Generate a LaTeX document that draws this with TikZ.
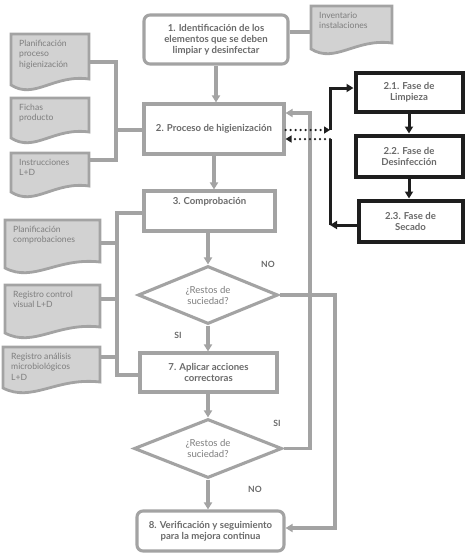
\documentclass[tikz,border=0pt]{standalone}
\usepackage{fontspec}
\setmainfont{Lato}
\usetikzlibrary{arrows.meta,shapes.geometric,calc}
\definecolor{lg}{HTML}{A3A3A3}
\definecolor{tg}{HTML}{6A6A6A}
\definecolor{dg}{HTML}{7E7E7E}
\definecolor{bk}{HTML}{1E1E1E}
\definecolor{df}{HTML}{D2D2D2}
\tikzset{
 gline/.style={draw=lg, line width=3.1pt},
 garrow/.style={gline, -{Triangle[length=7pt,width=8pt]}},
 bline/.style={draw=bk, line width=3pt},
 barrow/.style={bline, -{Triangle[length=7pt,width=8pt]}},
 dline/.style={draw=bk, line width=2.5pt, line cap=round, dash pattern=on 0pt off 5pt, -{Triangle[length=6pt,width=7pt]}},
 box/.style={draw=lg, line width=3.1pt, fill=white, text=tg, font=\bfseries\fontsize{9.6}{11}\selectfont, align=center, inner sep=0pt},
 rbox/.style={box, rounded corners=6pt},
 pbox/.style={box, draw=bk, line width=4pt},
 dia/.style={box, diamond, aspect=2.4, font=\fontsize{9.6}{11}\selectfont, text=dg},
 docshape/.style={draw=lg, line width=2.8pt, fill=df},
 doctext/.style={text=dg, font=\fontsize{8.6}{10.3}\selectfont, align=left, inner sep=0pt},
 lab/.style={text=tg, font=\bfseries\fontsize{8.6}{10}\selectfont},
 btext/.style={text=tg, font=\bfseries\fontsize{9.6}{11}\selectfont, inner sep=0pt},
}
\newcommand\docnode[6]{%
 \draw[docshape] (#2,#3) -- (#4,#3) -- (#4,{#5-6}) .. controls ({#4-0.45*(#4-#2)},{#5-11}) and ({#2+0.3*(#4-#2)},{#5+15}) .. (#2,#5) -- cycle;
 \node[inner sep=0pt, minimum width={#4-#2}, minimum height={#5-#3}, anchor=north west] (#1) at (#2,#3) {};
 \node[doctext, anchor=north west] (#1t) at ({#2+8},{#3+6}) {#6};
}
\begin{document}
\begin{tikzpicture}[x=1pt,y=-1pt]
\useasboundingbox (0,0) rectangle (474,558);
% documents
\docnode{d0}{311}{6}{392}{49}{Inventario\\instalaciones}
\docnode{d1}{11}{34}{89}{85}{Planificación\\proceso\\higienización}
\docnode{d2}{11}{98}{89}{138}{Fichas\\producto}
\docnode{d3}{11}{153}{89}{192}{Instrucciones\\L+D}
\docnode{d4}{5}{220}{100}{268}{Planificación\\comprobaciones}
\docnode{d5}{5}{285}{100}{333}{Registro control\\visual L+D}
\docnode{d6}{3}{347}{100}{388}{Registro análisis\\microbiológicos\\L+D}
% main boxes
\node[rbox, minimum width=144, minimum height=49] (b1) at (216,39.5) {1. Identificación de los\\elementos que se deben\\limpiar y desinfectar};
\node[box, minimum width=140, minimum height=50] (b2) at (214,129) {2. Proceso de higienización};
\node[box, minimum width=131, minimum height=40] (b3) at (209.5,211) {};
\node[btext] (b3t) at (209.5,202) {3. Comprobación};
\node[dia, minimum width=140, minimum height=58] (D1) at (208,295) {¿Restos de\\suciedad?};
\node[box, minimum width=137, minimum height=39] (b7) at (208.5,372.5) {7. Aplicar acciones\\correctoras};
\node[dia, minimum width=148, minimum height=59] (D2) at (208,448.5) {¿Restos de\\suciedad?};
\node[rbox, minimum width=147, minimum height=40] (b8) at (210.5,531) {8. Verificación y seguimiento\\para la mejora continua};
% phase boxes
\node[pbox, minimum width=107, minimum height=39] (p1) at (409,92) {2.1. Fase de\\Limpieza};
\node[pbox, minimum width=107, minimum height=41] (p2) at (409,156) {2.2. Fase de\\Desinfección};
\node[pbox, minimum width=104, minimum height=41] (p3) at (410.5,221) {2.3. Fase de\\Secado};
% labels
\node[lab] (no1) at (268,264) {NO};
\node[lab] (si1) at (178,335) {SI};
\node[lab] (si2) at (277,423) {SI};
\node[lab] (no2) at (255,489) {NO};
% coordinates
\coordinate (c0) at (300,32);
\coordinate (j1) at (116,62);
\coordinate (j2) at (116,130);
\coordinate (j3) at (116,160);
\coordinate (k1) at (117,213);
\coordinate (k2) at (117,243);
\coordinate (k3) at (117,299);
\coordinate (k4) at (117,357);
\coordinate (k5) at (117,375);
\coordinate (g1) at (310,113);
\coordinate (g2) at (335,295);
\coordinate (m1) at (330,130);
\coordinate (m2) at (330,139);
\coordinate (m3) at (330,225);
% gray connectors
\draw[gline] (b1.east |- c0) -- (d0.west |- c0);
\draw[gline] (d1.east |- j1) -- (j1) -- (j3) -- (d3.east |- j3);
\draw[gline] (j2) -- (b2.west |- j2);
\draw[gline] (b3.west |- k1) -- (k1) -- (k5) -- (b7.west |- k5);
\draw[gline] (d4.east |- k2) -- (k2);
\draw[gline] (d5.east |- k3) -- (k3);
\draw[gline] (d6.east |- k4) -- (k4);
\draw[garrow] (b1.south) -- (b1.south |- b2.north);
\draw[garrow] (b2.south) -- (b2.south |- b3.north);
\draw[garrow] (b3.south -| D1.north) -- (D1.north);
\draw[garrow] (D1.south) -- (D1.south |- b7.north);
\draw[garrow] (b7.south -| D2.north) -- (D2.north);
\draw[garrow] (D2.south) -- (D2.south |- b8.north);
\draw[garrow] (D2.east) -| (g1) -- (g1 -| b2.east);
\draw[garrow] (D1.east) -- (g2) |- ($(b8.east)+(0,-3)$);
% black connectors
\draw[dline] (b2.east |- m1) -- (m1);
\draw[barrow] (m1) |- ($(p1.west)+(0,-4)$);
\draw[barrow] (p1.south) -- (p1.south |- p2.north);
\draw[barrow] (p2.south) -- (p2.south |- p3.north);
\draw[barrow] (p3.west |- m3) -- (m3);
\draw[bline] (m3) -- (m2);
\draw[dline] (m2) -- (m2 -| b2.east);
\end{tikzpicture}
\end{document}
